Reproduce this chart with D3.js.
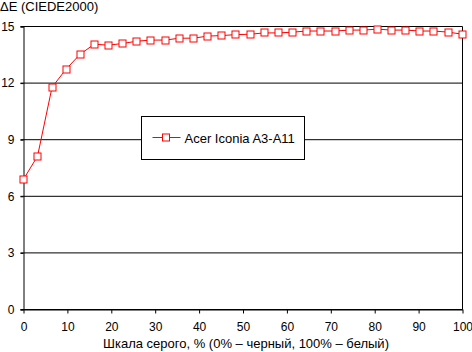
<!DOCTYPE html>
<html>
<head>
<meta charset="utf-8">
<script src="https://cdn.jsdelivr.net/npm/d3@7"></script>
<style>
  body { margin: 0; background: #fff; }
  svg text { font-family: "Liberation Sans", Arial, sans-serif; font-size: 12px; fill: #000; }
</style>
</head>
<body>
<div id="chart"></div>
<script>
// grey level, % (0% black, 100% white)
const grayLevels = [0, 3.2, 6.5, 9.7, 12.9, 16.1, 19.4, 22.6, 25.8, 29.0, 32.3, 35.5, 38.7, 41.9, 45.2, 48.4,
  51.6, 54.8, 58.1, 61.3, 64.5, 67.7, 71.0, 74.2, 77.4, 80.6, 83.9, 87.1, 90.3, 93.5, 96.8, 100];
// ΔE values, Acer Iconia A3-A11
const deltaE = [6.9, 8.13, 11.78, 12.74, 13.53, 14.06, 14.01, 14.10, 14.22, 14.28, 14.28, 14.38, 14.38, 14.49, 14.52, 14.57,
  14.59, 14.66, 14.66, 14.70, 14.76, 14.76, 14.76, 14.81, 14.81, 14.86, 14.81, 14.81, 14.76, 14.76, 14.70, 14.59];
const seriesName = 'Acer Iconia A3-A11';
const xTicks = [0, 10, 20, 30, 40, 50, 60, 70, 80, 90, 100];
const yTicks = [0, 3, 6, 9, 12, 15];
const yTitle = 'ΔE (CIEDE2000)';
const xTitle = 'Шкала серого, % (0% – черный, 100% – белый)';

const W = 472, H = 352;
const margin = { top: 26, right: 10, bottom: 43, left: 23 };
const w = W - margin.left - margin.right;
const h = H - margin.top - margin.bottom;

const svg = d3.select('#chart').append('svg')
  .attr('width', W)
  .attr('height', H);

const g = svg.append('g')
  .attr('transform', `translate(${margin.left + 0.5},${margin.top + 0.5})`);

const x = d3.scaleLinear().domain([0, 100]).range([0, w]);
const y = d3.scaleLinear().domain([0, 15]).range([h, 0]);

// gridlines (extend 3px left as tick marks)
g.selectAll('.grid')
  .data(yTicks)
  .enter().append('line')
  .attr('x1', -3).attr('x2', w)
  .attr('y1', d => y(d)).attr('y2', d => y(d))
  .attr('stroke', '#000').attr('stroke-width', 1);

// right border
g.append('line')
  .attr('x1', w).attr('x2', w)
  .attr('y1', 0).attr('y2', h)
  .attr('stroke', '#000');

// y axis
const yAxis = g.append('g')
  .call(d3.axisLeft(y).tickValues(yTicks).tickSize(3).tickPadding(6));
yAxis.select('.domain').attr('stroke', '#000');
yAxis.selectAll('text').style('font-size', '12px');

// x axis
const xAxis = g.append('g')
  .attr('transform', `translate(0,${h})`)
  .call(d3.axisBottom(x).tickValues(xTicks).tickSize(4).tickPadding(9).tickSizeOuter(0));
xAxis.select('.domain').attr('stroke', '#000');
xAxis.selectAll('text').style('font-size', '12px');

// titles
svg.append('text')
  .attr('x', 0).attr('y', 11)
  .style('font-size', '13px')
  .text(yTitle);

svg.append('text')
  .attr('x', 246).attr('y', 348)
  .attr('text-anchor', 'middle')
  .style('font-size', '13px')
  .text(xTitle);

// series
const line = d3.line()
  .x((d, i) => x(grayLevels[i]))
  .y(d => y(d));

g.append('path')
  .datum(deltaE)
  .attr('d', line)
  .attr('fill', 'none')
  .attr('stroke', '#ff0000')
  .attr('stroke-width', 1);

g.selectAll('.pt')
  .data(deltaE)
  .enter().append('rect')
  .attr('x', (d, i) => Math.round(x(grayLevels[i])) - 3.5)
  .attr('y', d => Math.round(y(d)) - 3.5)
  .attr('width', 7).attr('height', 7)
  .attr('fill', '#fff')
  .attr('stroke', '#ff0000')
  .attr('stroke-width', 1);

// legend
const legend = svg.append('g').attr('transform', 'translate(141.5,116.5)');
legend.append('rect')
  .attr('width', 163).attr('height', 43)
  .attr('fill', '#fff').attr('stroke', '#000');
legend.append('line')
  .attr('x1', 11).attr('x2', 39).attr('y1', 21).attr('y2', 21)
  .attr('stroke', '#ff0000');
legend.append('rect')
  .attr('x', 21).attr('y', 17.5).attr('width', 7).attr('height', 7)
  .attr('fill', '#fff').attr('stroke', '#ff0000');
legend.append('text')
  .attr('x', 43).attr('y', 26)
  .style('font-size', '13px')
  .text(seriesName);
</script>
</body>
</html>
